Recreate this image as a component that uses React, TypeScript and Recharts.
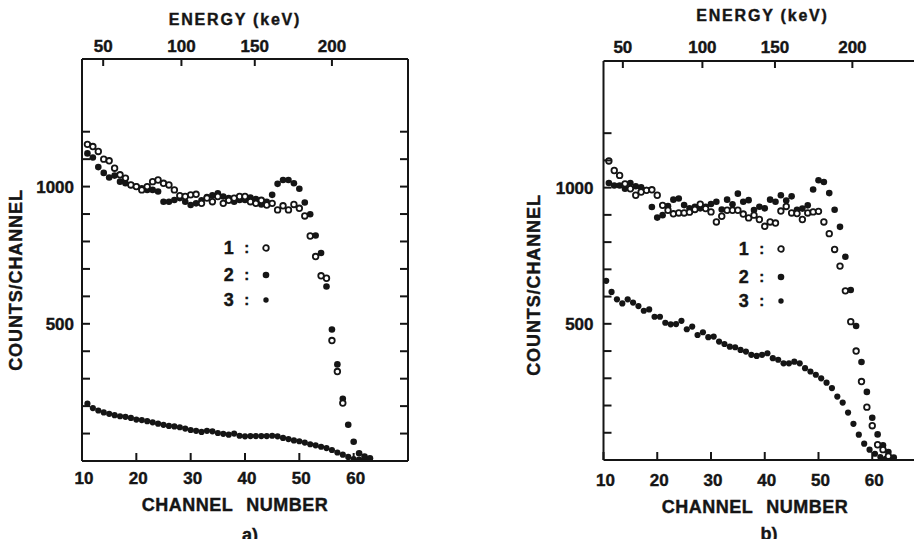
import React from "react";
import { ScatterChart, Scatter, XAxis, YAxis } from "recharts";

const INK = "#151515";
const FONT = '"Liberation Sans", Arial, Helvetica, sans-serif';

// axes
const CHANNEL_TICKS = [10, 20, 30, 40, 50, 60];
const COUNT_TICKS = [100, 200, 300, 400, 500, 600, 700, 800, 900, 1000, 1100, 1200];
const COUNT_LABELS = [500, 1000];
const ENERGY_KEV = [50, 100, 150, 200];
// channel under each keV tick
const ENERGY_CH_A = [13.9, 28.3, 41.8, 56.0];
const ENERGY_CH_B = [13.6, 28.4, 41.9, 56.3];

// panel a) counts per channel, one value per channel from the start channel
const A1_START = 11;
const A1 = [
  1154, 1146, 1128, 1100, 1094, 1067, 1043, 1031, 1006, 1000, 988, 1000, 1018, 1024, 1012, 1006, 988, 967, 964, 970,
  972, 939, 958, 945, 964, 939, 950, 958, 964, 964, 945, 939, 950, 933, 939, 915, 930, 915, 935, 921,
  893, 820, 745, 675, 666, 439, 326, 211,
];
const A2_START = 11;
const A2 = [
  1121, 1106, 1071, 1050, 1033, 1040, 1018, 1012, 1006, 1000, 994, 988, 988, 982, 945, 945, 951, 958, 945, 933,
  939, 950, 962, 968, 976, 964, 958, 945, 951, 951, 960, 955, 935, 945, 970, 1010, 1024, 1024, 1012, 992,
  942, 899, 822, 758, 636, 479, 352, 227, 132, 70, 28, 16, 10,
];
const A3_START = 11;
const A3 = [
  209, 193, 184, 177, 172, 167, 163, 161, 157, 151, 149, 145, 141, 136, 132, 128, 126, 123, 118, 113,
  110, 106, 110, 108, 102, 99, 96, 100, 92, 90, 91, 91, 91, 91, 92, 90, 84, 80, 75, 72,
  67, 61, 57, 52, 47, 40, 31, 23, 15, 7, 5, 5,
];

// panel b)
const B1_START = 11;
const B1 = [
  1098, 1063, 1045, 1014, 996, 972, 984, 990, 992, 972, 935, 917, 904, 907, 907, 910, 920, 939, 923, 911,
  874, 895, 917, 917, 917, 903, 889, 899, 883, 858, 874, 870, 914, 931, 907, 905, 883, 907, 911, 913,
  874, 831, 773, 712, 621, 508, 400, 288, 194, 126, 56, 38, 14,
];
const B2_START = 11;
const B2 = [
  1017, 1008, 1008, 996, 1017, 1005, 1001, 991, 929, 890, 899, 932, 956, 960, 936, 924, 930, 924, 930, 940,
  948, 920, 956, 939, 978, 948, 954, 918, 930, 924, 956, 948, 972, 953, 968, 919, 923, 935, 993, 1027,
  1021, 980, 919, 856, 746, 624, 492, 360, 250, 155, 94, 54, 29, 9,
];
const B3_START = 10.5;
const B3 = [
  658, 617, 590, 575, 590, 578, 565, 548, 553, 526, 526, 504, 498, 499, 511, 480, 490, 459, 469, 451,
  453, 435, 426, 416, 414, 404, 398, 386, 382, 386, 392, 374, 368, 355, 355, 361, 355, 337, 325, 313,
  300, 284, 264, 233, 211, 174, 133, 93, 60, 38, 23, 11, 4,
];

const toPoints = (start: number, values: number[]) => values.map((y, i) => ({ x: start + i, y }));

const openDot = (p: any) => <circle cx={p.cx} cy={p.cy} r={2.8} fill="#fff" stroke={INK} strokeWidth={1.8} />;
const fullDot = (p: any) => <circle cx={p.cx} cy={p.cy} r={3.3} fill={INK} />;
const lowDot = (p: any) => <circle cx={p.cx} cy={p.cy} r={3.1} fill={INK} />;
const noDot = () => <g />;

const axisLine = { stroke: INK, strokeWidth: 2 };
const textProps = { fill: INK, fontSize: 17, fontWeight: 700, fontFamily: FONT, stroke: INK, strokeWidth: 0.4 };

// ticks point inward from the frame; labels sit outside
const bottomTick = (gap: number) => (p: any) => (
  <g>
    <line x1={p.x} x2={p.x} y1={p.y} y2={p.y - 8} stroke={INK} strokeWidth={2} />
    <text x={p.x + 2} y={p.y + gap} textAnchor="middle" {...textProps}>
      {p.payload.value}
    </text>
  </g>
);
const topTick = (gap: number, energyCh: number[]) => (p: any) => {
  const i = energyCh.indexOf(p.payload.value);
  return (
    <g>
      <line x1={p.x} x2={p.x} y1={p.y} y2={p.y + 7} stroke={INK} strokeWidth={2} />
      <text x={p.x} y={p.y - gap} textAnchor="middle" {...textProps}>
        {i >= 0 ? ENERGY_KEV[i] : ""}
      </text>
    </g>
  );
};
const leftTick = (gap: number) => (p: any) => (
  <g>
    <line x1={p.x} x2={p.x + 8} y1={p.y} y2={p.y} stroke={INK} strokeWidth={2} />
    {COUNT_LABELS.includes(p.payload.value) && (
      <text x={p.x - gap} y={p.y + 6} textAnchor="end" {...textProps}>
        {p.payload.value}
      </text>
    )}
  </g>
);
const rightTick = (p: any) => (
  <line x1={p.x} x2={p.x - 8} y1={p.y} y2={p.y} stroke={INK} strokeWidth={2} />
);

function Panel({ width, margin, s1, s2, s3, energyCh, bottomGap, topGap, leftGap }: any) {
  return (
    <ScatterChart width={width} height={547} margin={margin}>
      <XAxis
        xAxisId="ch"
        type="number"
        dataKey="x"
        orientation="bottom"
        domain={[10, 70]}
        allowDataOverflow
        ticks={CHANNEL_TICKS}
        interval={0}
        height={40}
        axisLine={axisLine}
        tickLine={false}
        tickSize={0}
        tickMargin={0}
        tick={bottomTick(bottomGap)}
      />
      <XAxis
        xAxisId="kev"
        type="number"
        dataKey="x"
        orientation="top"
        domain={[10, 70]}
        allowDataOverflow
        ticks={energyCh}
        interval={0}
        height={40}
        axisLine={axisLine}
        tickLine={false}
        tickSize={0}
        tickMargin={0}
        tick={topTick(topGap, energyCh)}
      />
      <YAxis
        yAxisId="cnt"
        type="number"
        dataKey="y"
        orientation="left"
        domain={[0, 1465]}
        allowDataOverflow
        ticks={COUNT_TICKS}
        interval={0}
        width={60}
        axisLine={axisLine}
        tickLine={false}
        tickSize={0}
        tickMargin={0}
        tick={leftTick(leftGap)}
      />
      <YAxis
        yAxisId="cntR"
        type="number"
        dataKey="y"
        orientation="right"
        domain={[0, 1465]}
        allowDataOverflow
        ticks={COUNT_TICKS}
        interval={0}
        width={10}
        axisLine={axisLine}
        tickLine={false}
        tickSize={0}
        tickMargin={0}
        tick={rightTick}
      />
      {/* carries the top and right frame axes */}
      <Scatter xAxisId="kev" yAxisId="cntR" data={s3} shape={noDot} isAnimationActive={false} />
      <Scatter xAxisId="ch" yAxisId="cnt" data={s3} shape={lowDot} isAnimationActive={false} />
      <Scatter xAxisId="ch" yAxisId="cnt" data={s2} shape={fullDot} isAnimationActive={false} />
      <Scatter xAxisId="ch" yAxisId="cnt" data={s1} shape={openDot} isAnimationActive={false} />
    </ScatterChart>
  );
}

const abs = (x: number, y: number, extra: any = {}): React.CSSProperties => ({
  position: "absolute",
  left: x,
  top: y,
  transform: "translate(-50%, -50%)",
  lineHeight: 1,
  whiteSpace: "nowrap",
  WebkitTextStroke: "0.4px " + INK,
  ...extra,
});

function Legend({ x, y }: { x: number; y: number[] }) {
  const marks = [
    <circle cx={6} cy={6} r={2.8} fill="#fff" stroke={INK} strokeWidth={1.8} />,
    <circle cx={6} cy={6} r={3.3} fill={INK} />,
    <circle cx={6} cy={6} r={2.7} fill={INK} />,
  ];
  return (
    <>
      {y.map((yy, i) => (
        <React.Fragment key={i}>
          <div style={abs(x - 37, yy, { fontSize: 18 })}>{i + 1}</div>
          <div style={abs(x - 19, yy - 1, { fontSize: 15 })}>:</div>
          <svg width={12} height={12} style={{ position: "absolute", left: x - 6, top: yy - 6 }}>
            {marks[i]}
          </svg>
        </React.Fragment>
      ))}
    </>
  );
}

export default function App() {
  return (
    <div
      style={{
        position: "relative",
        width: 922,
        height: 547,
        margin: -8,
        overflow: "hidden",
        background: "#fff",
        color: INK,
        fontFamily: FONT,
        fontWeight: 700,
      }}
    >
      <div style={{ position: "absolute", left: 0, top: 0 }}>
        <Panel
          width={460}
          margin={{ top: 19, right: 42, bottom: 46, left: 22 }}
          s1={toPoints(A1_START, A1)}
          s2={toPoints(A2_START, A2)}
          s3={toPoints(A3_START, A3)}
          energyCh={ENERGY_CH_A}
          bottomGap={23}
          topGap={7}
          leftGap={8}
        />
      </div>
      <div style={{ position: "absolute", left: 460, top: 0 }}>
        <Panel
          width={480}
          margin={{ top: 21, right: 4, bottom: 47, left: 83.5 }}
          s1={toPoints(B1_START, B1)}
          s2={toPoints(B2_START, B2)}
          s3={toPoints(B3_START, B3)}
          energyCh={ENERGY_CH_B}
          bottomGap={26}
          topGap={8}
          leftGap={10}
        />
      </div>

      {/* panel a titles */}
      <div style={abs(235, 20, { fontSize: 16, letterSpacing: 1.8 })}>ENERGY (keV)</div>
      <div style={abs(16, 280, { fontSize: 18, letterSpacing: 0.9, transform: "translate(-50%, -50%) rotate(-90deg)" })}>
        COUNTS/CHANNEL
      </div>
      <div style={abs(235, 505, { fontSize: 18, letterSpacing: 0.5, wordSpacing: 8 })}>CHANNEL NUMBER</div>
      <div style={abs(250, 535, { fontSize: 18 })}>a)</div>
      <Legend x={265.7} y={[247.5, 275, 300]} />

      {/* panel b titles */}
      <div style={abs(762.5, 16, { fontSize: 16, letterSpacing: 1.8 })}>ENERGY (keV)</div>
      <div style={abs(533.5, 285, { fontSize: 18, letterSpacing: 0.9, transform: "translate(-50%, -50%) rotate(-90deg)" })}>
        COUNTS/CHANNEL
      </div>
      <div style={abs(755, 506.5, { fontSize: 18, letterSpacing: 0.5, wordSpacing: 8 })}>CHANNEL NUMBER</div>
      <div style={abs(769, 534, { fontSize: 18 })}>b)</div>
      <Legend x={780.7} y={[249, 277, 300.5]} />
    </div>
  );
}
